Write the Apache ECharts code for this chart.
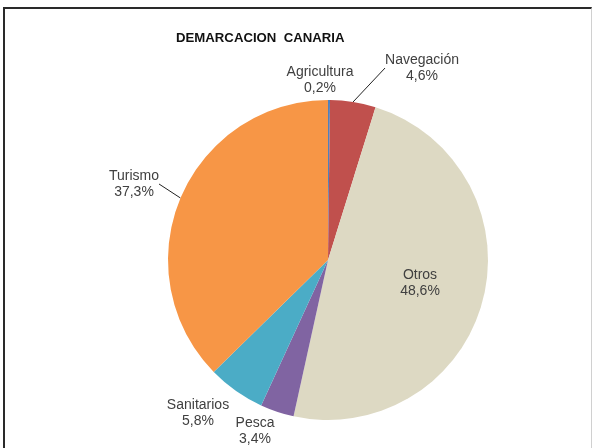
<!DOCTYPE html>
<html>
<head>
<meta charset="utf-8">
<script src="https://cdn.jsdelivr.net/npm/echarts@6/dist/echarts.min.js"></script>
<style>
  html, body { margin: 0; padding: 0; background: #fff; }
  #frame { position: absolute; left: 3px; top: 7px; width: 586px; height: 460px;
           border-left: 2px solid #2a2a2a; border-top: 2px solid #2a2a2a; border-right: 1px solid #d0d0d0; }
  #chart { position: absolute; left: 0; top: 0; width: 593px; height: 448px; }
</style>
</head>
<body>
<div id="frame"></div>
<div id="chart"></div>
<script>
// Uses of the coastal demarcation, share of total (%)
const categories = ['Agricultura', 'Navegación', 'Otros', 'Pesca', 'Sanitarios', 'Turismo'];
const shares = [0.2, 4.6, 48.6, 3.4, 5.8, 37.3];
const sliceColors = ['#4f81bd', '#c0504d', '#ddd9c3', '#8064a2', '#4bacc6', '#f79646'];

// Label block centres (px), keyed by category
const labelSpots = {
  'Agricultura': [320, 80],
  'Navegación': [422, 68],
  'Otros': [420, 283],
  'Pesca': [255, 431],
  'Sanitarios': [198, 413],
  'Turismo': [134, 184]
};
const withLeader = { 'Navegación': true, 'Turismo': true };

const fmt = v => v.toFixed(1).replace('.', ',') + '%';

const chart = echarts.init(document.getElementById('chart'), null, { renderer: 'canvas' });
chart.setOption({
  animation: false,
  title: {
    text: 'DEMARCACION  CANARIA',
    left: 171, top: 27,
    textStyle: { fontFamily: 'Liberation Sans, Arial', fontSize: 13.2, fontWeight: 'bold', color: '#111' }
  },
  series: [{
    type: 'pie',
    center: [328, 260],
    radius: [0, 160],
    startAngle: 90,
    clockwise: true,
    avoidLabelOverlap: false,
    itemStyle: { borderWidth: 0 },
    data: categories.map((c, i) => ({
      name: c,
      value: shares[i],
      itemStyle: { color: sliceColors[i] },
      labelLine: { show: !!withLeader[c] }
    })),
    label: {
      show: true,
      position: 'outside',
      formatter: p => p.name + '\n' + fmt(p.value),
      fontFamily: 'Liberation Sans, Arial',
      fontSize: 14,
      lineHeight: 16,
      color: '#404040',
      align: 'center'
    },
    labelLine: {
      show: true,
      length: 10, length2: 0,
      lineStyle: { color: '#222', width: 1 }
    },
    labelLayout: p => {
      const s = labelSpots[categories[p.dataIndex]];
      return { x: s[0], y: s[1], align: 'center', verticalAlign: 'middle' };
    }
  }]
});
</script>
</body>
</html>
